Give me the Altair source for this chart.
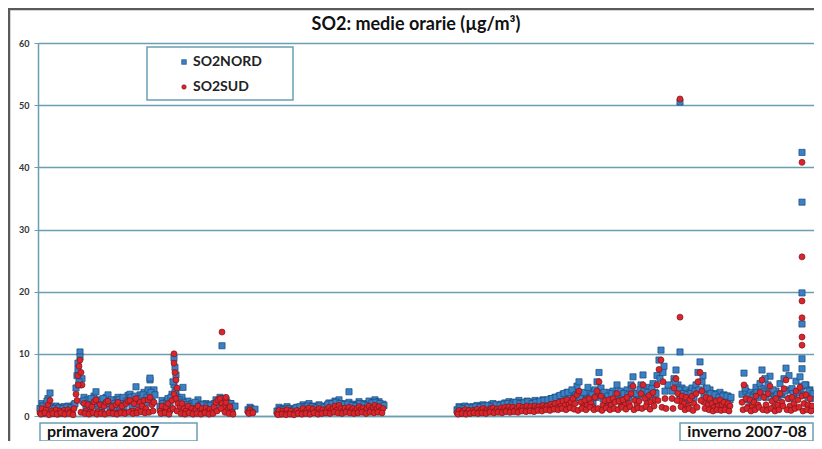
import altair as alt
import pandas as pd

# ---------------- data (medie orarie SO2, µg/m³) ----------------
STEP = 2      # passo della serie principale (indice temporale)
STEP2 = 4     # passo della serie secondaria (valori intermedi)
seg_starts = [2, 122, 210, 239, 419, 634, 704]

nord_segments = [
    [1.2, 2.0, 1.0, 1.8, 2.8, 3.7, 1.5, 1.0, 1.6, 0.8, 1.4, 0.9, 1.5, 1.0, 1.6, 1.2, 0.9, 1.8,
     4.5, 7.5, 10.3, 6.0, 3.0, 1.5, 2.6, 1.2, 2.2, 3.2, 3.9, 1.4, 2.6, 1.2, 2.4, 3.0, 3.4, 1.3,
     2.2, 1.2, 2.6, 3.0, 1.4, 2.4, 1.3, 2.8, 3.3, 3.5, 1.6, 3.0, 4.7, 2.0, 3.4, 2.6, 3.8, 2.2,
     4.2, 5.8, 3.0, 4.2],
    [1.5, 2.5, 1.2, 2.2, 2.8, 1.5, 3.5, 5.0, 4.0, 3.0, 2.2, 3.0, 2.0, 1.6, 2.4, 1.2, 2.0, 1.4,
     1.8, 2.6, 1.5, 1.9, 1.2, 2.0, 1.4, 1.8, 1.3, 2.0, 2.6, 2.2, 3.0, 2.4, 1.8, 2.6, 1.4, 2.0, 1.0],
    [1.0, 1.4, 0.9],
    [0.8, 1.4, 0.6, 1.2, 0.9, 1.5, 0.7, 1.2, 0.6, 1.0, 1.4, 0.8, 1.2, 1.8, 1.0, 1.6, 2.0, 1.2,
     1.6, 1.0, 1.4, 1.8, 1.1, 1.5, 1.0, 1.7, 2.1, 1.4, 2.0, 2.4, 1.6, 2.6, 1.8, 1.3, 2.0, 1.5,
     2.2, 1.4, 1.9, 1.2, 1.8, 2.3, 1.5, 2.0, 1.3, 1.8, 2.4, 1.6, 2.1, 2.6, 1.8, 2.3, 1.4, 1.9],
    [1.0, 1.5, 0.8, 1.3, 1.6, 1.0, 1.4, 0.9, 1.5, 1.2, 1.7, 1.0, 1.4, 1.8, 1.1, 1.6, 1.2, 1.8,
     2.0, 1.3, 1.7, 1.2, 1.9, 1.4, 2.1, 1.5, 2.3, 1.6, 2.2, 1.4, 2.0, 2.5, 1.6, 2.1, 1.5, 2.4,
     1.7, 2.2, 1.6, 2.5, 1.8, 2.3, 1.7, 2.6, 2.0, 2.4, 1.8, 2.8, 2.2, 3.0, 2.0, 3.2, 2.4, 3.5,
     2.6, 3.8, 2.8, 3.2, 4.0, 3.0, 4.8, 5.5, 3.2, 2.4, 3.6, 2.6, 4.0, 3.0, 2.2, 4.2, 5.5, 7.0,
     4.5, 2.8, 3.6, 2.4, 3.8, 2.6, 4.0, 3.2, 5.0, 3.4, 2.4, 3.8, 2.8, 4.2, 3.0, 5.0, 6.3, 3.6,
     2.8, 3.4, 5.0, 6.6, 4.0, 3.0, 4.6, 3.4, 5.2, 3.8, 6.5, 9.0, 10.6, 7.0, 4.0],
    [4.0, 6.0, 7.4, 5.0, 3.5, 4.5, 3.0, 4.2, 2.6, 3.8, 4.5, 3.0, 5.0, 7.0, 8.7, 5.5, 3.4, 4.4,
     2.8, 4.2, 3.2, 2.4, 3.6, 2.6, 3.8, 2.8, 3.4, 2.4, 3.2, 2.6],
    [3.5, 6.9, 4.0, 2.6, 3.8, 2.4, 3.4, 4.6, 3.0, 5.2, 7.4, 4.4, 3.0, 5.0, 6.4, 3.6, 2.6, 4.0,
     3.0, 5.2, 3.4, 6.0, 7.7, 4.2, 2.8, 4.4, 3.2, 5.6, 4.0, 6.3, 4.8, 3.4, 5.0, 3.0, 4.2, 2.8],
]
nord_mid = [
    [1.6, 2.4, 1.4, 1.2, 1.3, 1.2, 1.4, 1.3, 2.0, 5.0, 2.4, 2.0, 2.8, 2.0, 2.4, 2.8, 2.0, 2.6,
     2.0, 2.6, 3.0, 2.4, 3.0, 3.2, 2.8, 3.4, 3.0, 3.8, 3.4],
    [2.0, 1.8, 3.0, 3.8, 2.6, 2.2, 1.8, 1.6, 2.2, 1.6, 1.8, 1.6, 1.7, 1.6, 2.4, 2.8, 2.2, 2.0, 1.6],
    [1.2, 1.1],
    [1.1, 1.0, 1.2, 0.9, 1.3, 1.5, 1.4, 1.6, 1.5, 1.3, 1.6, 1.4, 1.9, 2.0, 2.2, 2.0, 1.8, 1.9,
     1.7, 1.6, 2.0, 1.8, 1.7, 2.1, 2.2, 2.0, 1.7],
    [1.3, 1.2, 1.4, 1.3, 1.5, 1.4, 1.6, 1.7, 1.5, 1.8, 1.7, 1.9, 2.0, 1.8, 2.2, 2.0, 2.1, 2.3,
     2.0, 2.2, 2.4, 2.5, 2.6, 2.8, 3.0, 3.3, 3.6, 3.8, 4.2, 3.4, 3.0, 3.8, 4.6, 3.4, 3.0, 3.6,
     3.8, 3.2, 3.6, 3.4, 4.0, 3.6, 3.4, 4.4, 3.6, 4.2, 4.0, 3.8, 4.4, 3.6, 6.0, 8.0, 5.0],
    [5.5, 4.2, 3.6, 3.4, 3.6, 4.0, 4.2, 6.5, 4.5, 3.6, 3.4, 3.0, 3.2, 3.2, 3.0],
    [4.5, 3.2, 3.0, 3.8, 4.0, 6.0, 3.8, 4.2, 3.4, 3.6, 4.0, 6.5, 3.6, 3.8, 4.4, 5.0, 4.0, 3.6],
]

sud_segments = [
    [0.5, 1.2, 0.4, 1.0, 1.8, 2.5, 0.8, 0.4, 1.0, 0.3, 0.8, 0.4, 0.9, 0.5, 1.0, 0.6, 0.4, 1.2,
     3.5, 6.5, 9.0, 5.0, 2.0, 0.8, 1.8, 0.6, 1.5, 2.3, 2.6, 0.7, 1.8, 0.6, 1.6, 2.2, 2.4, 0.6,
     1.5, 0.5, 1.8, 2.2, 0.7, 1.6, 0.6, 2.0, 2.4, 2.5, 0.8, 2.0, 2.8, 1.0, 2.2, 1.6, 2.5, 1.2,
     2.6, 3.0, 1.8, 2.2],
    [0.8, 1.6, 0.6, 1.4, 2.0, 0.8, 2.5, 3.5, 2.8, 2.0, 1.4, 2.0, 1.2, 0.8, 1.6, 0.6, 1.2, 0.7,
     1.1, 1.6, 0.8, 1.2, 0.6, 1.3, 0.8, 1.1, 0.7, 1.4, 2.2, 2.6, 2.8, 2.0, 1.4, 2.2, 1.0, 1.5, 0.6],
    [0.6, 1.0, 0.7],
    [0.4, 0.9, 0.3, 0.8, 0.5, 1.0, 0.4, 0.8, 0.3, 0.6, 0.9, 0.5, 0.8, 1.2, 0.6, 1.0, 1.3, 0.7,
     1.1, 0.6, 0.9, 1.2, 0.7, 1.0, 0.6, 1.1, 1.4, 0.9, 1.3, 1.6, 1.0, 1.7, 1.2, 0.8, 1.3, 0.9,
     1.4, 0.9, 1.2, 0.8, 1.2, 1.5, 1.0, 1.3, 0.8, 1.2, 1.6, 1.0, 1.4, 1.7, 1.2, 1.5, 0.9, 1.2],
    [0.5, 0.9, 0.4, 0.8, 1.0, 0.6, 0.9, 0.5, 0.9, 0.7, 1.1, 0.6, 0.9, 1.2, 0.7, 1.0, 0.8, 1.2,
     1.3, 0.8, 1.1, 0.8, 1.3, 0.9, 1.4, 1.0, 1.5, 1.0, 1.4, 0.9, 1.3, 1.6, 1.0, 1.4, 1.0, 1.6,
     1.1, 1.5, 1.0, 1.6, 1.2, 1.5, 1.1, 1.7, 1.3, 1.6, 1.2, 1.9, 1.5, 2.0, 1.3, 2.2, 1.6, 2.4,
     1.7, 2.6, 1.9, 2.2, 2.8, 2.0, 3.4, 4.0, 2.2, 1.5, 2.5, 1.7, 2.8, 2.0, 1.4, 3.0, 4.0, 5.5,
     3.2, 1.8, 2.5, 1.5, 2.6, 1.7, 2.8, 2.2, 3.6, 2.4, 1.5, 2.6, 1.8, 3.0, 2.0, 3.6, 4.8, 2.5,
     1.8, 2.4, 3.6, 5.0, 2.8, 2.0, 3.3, 2.3, 3.8, 2.6, 5.0, 7.5, 9.0, 5.5, 2.8],
    [2.8, 4.5, 6.0, 3.6, 2.4, 3.2, 2.0, 3.0, 1.6, 2.6, 3.2, 2.0, 3.6, 5.5, 7.0, 4.0, 2.2, 3.0,
     1.8, 2.8, 2.0, 1.4, 2.4, 1.6, 2.6, 1.8, 2.2, 1.4, 2.0, 1.6],
    [2.2, 5.0, 2.8, 1.5, 2.6, 1.4, 2.2, 3.2, 1.8, 3.8, 5.8, 3.0, 1.8, 3.6, 4.8, 2.4, 1.5, 2.8,
     1.8, 3.6, 2.2, 4.4, 5.8, 2.8, 1.6, 3.0, 2.0, 4.0, 2.6, 4.6, 3.2, 2.0, 3.4, 1.8, 2.8, 1.6],
]
sud_low = [
    [0.3, 0.5, 0.2, 0.4, 0.3, 0.5, 0.3, 0.4, 0.2, 2.5, 0.6, 0.4, 0.3, 0.5, 0.3, 0.4, 0.3, 0.5,
     0.4, 0.3, 0.5, 0.4, 0.6, 0.4, 0.5, 0.7, 0.5, 0.6, 0.8],
    [0.4, 0.5, 0.3, 1.2, 0.8, 0.4, 0.3, 0.5, 0.3, 0.4, 0.3, 0.5, 0.3, 0.4, 0.8, 1.2, 0.6, 0.4, 0.3],
    [0.4, 0.5],
    [0.2, 0.3, 0.2, 0.3, 0.2, 0.4, 0.3, 0.4, 0.3, 0.5, 0.3, 0.4, 0.5, 0.4, 0.6, 0.5, 0.4, 0.6,
     0.5, 0.4, 0.5, 0.6, 0.4, 0.6, 0.5, 0.6, 0.5],
    [0.3, 0.4, 0.3, 0.4, 0.5, 0.4, 0.5, 0.4, 0.6, 0.5, 0.6, 0.5, 0.7, 0.6, 0.7, 0.6, 0.8, 0.7,
     0.8, 0.7, 0.9, 0.8, 1.0, 0.9, 1.1, 1.0, 1.2, 1.0, 1.3, 1.1, 0.9, 1.2, 1.0, 1.4, 1.0, 1.2,
     0.9, 1.3, 1.0, 1.2, 1.0, 1.4, 1.1, 1.5, 1.0, 1.3, 1.2, 1.5, 1.1, 1.6, 2.5, 1.4, 1.2],
    [1.2, 2.5, 1.5, 1.0, 1.2, 0.9, 1.4, 2.5, 1.2, 1.0, 0.8, 1.0, 0.9, 1.0, 0.8],
    [1.0, 1.2, 0.8, 1.0, 1.4, 1.0, 0.9, 1.2, 0.8, 1.0, 1.6, 1.0, 0.9, 1.2, 1.4, 0.8, 1.0, 0.8],
]

# valori isolati (picchi)
nord_extra_t = [40, 42, 41, 39, 136, 137, 138, 135, 145, 184, 112, 311,
                642, 642, 764, 764, 764, 764, 764, 764]
nord_extra_v = [8.5, 9.5, 5.5, 6.5, 9.3, 7.8, 6.6, 5.5, 4.6, 11.3, 6.1, 3.9,
                50.5, 10.3, 42.4, 34.4, 19.8, 14.8, 9.2, 7.6]
sud_extra_t = [41, 40, 43, 136, 136, 137, 138, 139, 184, 188,
               642, 642, 764, 764, 764, 764, 764, 764]
sud_extra_v = [8.0, 5.0, 7.0, 10.0, 8.5, 7.0, 5.8, 4.5, 13.5, 3.0,
               51.0, 15.9, 40.8, 25.6, 18.5, 15.8, 12.7, 11.4]

series_names = ["SO2NORD", "SO2SUD"]
series_fill = ["#3a80c6", "#d9252b"]
series_stroke = ["#1d4a78", "#7d171c"]
y_ticks = [0, 10, 20, 30, 40, 50, 60]
title_text = "SO2: medie orarie (µg/m³)"
period_labels = ["primavera 2007", "inverno 2007-08"]

# ---------------- table ----------------
rows = []


def add(name, segs, offset, step):
    for start, vals in zip(seg_starts, segs):
        for i, v in enumerate(vals):
            rows.append({"t": start + offset + step * i, "v": v, "serie": name})


add("SO2NORD", nord_segments, 0, STEP)
add("SO2NORD", nord_mid, 3, STEP2)
for t, v in zip(nord_extra_t, nord_extra_v):
    rows.append({"t": t, "v": v, "serie": "SO2NORD"})
add("SO2SUD", sud_segments, 0, STEP)
add("SO2SUD", sud_low, 1, STEP2)
for t, v in zip(sud_extra_t, sud_extra_v):
    rows.append({"t": t, "v": v, "serie": "SO2SUD"})
df = pd.DataFrame(rows)

W, H = 776, 373
TEAL = "#6a9fb3"
FONT = "Lato"

xenc = alt.X("t:Q", scale=alt.Scale(domain=[0, W], nice=False, zero=False),
             axis=alt.Axis(labels=False, ticks=False, grid=False, title=None,
                           domainColor=TEAL, domainWidth=1.5))
yenc = alt.Y("v:Q", scale=alt.Scale(domain=[0, 60], nice=False),
             axis=alt.Axis(values=y_ticks, grid=True, gridColor=TEAL, gridWidth=1.3,
                           domainColor=TEAL, domainWidth=1.5, tickColor=TEAL, tickSize=4,
                           labelFont=FONT, labelFontSize=9, labelFontWeight="bold",
                           labelColor="#333", labelPadding=5, title=None))

base = alt.Chart(df)
nord = base.transform_filter(alt.datum.serie == "SO2NORD").mark_square(
    size=38, fill=series_fill[0], stroke=series_stroke[0], strokeWidth=0.7, opacity=1
).encode(x=xenc, y=yenc)
sud = base.transform_filter(alt.datum.serie == "SO2SUD").mark_circle(
    size=36, fill=series_fill[1], stroke=series_stroke[1], strokeWidth=0.7, opacity=1
).encode(x="t:Q", y="v:Q")

one = pd.DataFrame({"k": [0]})
deco = alt.Chart(one)

frame_left = deco.mark_rule(color="#5a5a5a", strokeWidth=2.5).encode(
    x=alt.value(-29), y=alt.value(-34), y2=alt.value(400))
frame_top = deco.mark_rule(color="#5a5a5a", strokeWidth=2.5).encode(
    x=alt.value(-30), x2=alt.value(W), y=alt.value(-34))

title = deco.mark_text(font=FONT, fontSize=18, fontWeight="bold", color="#111",
                       align="center", baseline="middle").encode(
    x=alt.value(378), y=alt.value(-18), text=alt.value(title_text))

leg_box = deco.mark_rect(fill="white", stroke=TEAL, strokeWidth=1.5).encode(
    x=alt.value(109), x2=alt.value(255), y=alt.value(4), y2=alt.value(57))
leg_m1 = deco.mark_square(size=22, fill=series_fill[0], stroke=series_stroke[0],
                          strokeWidth=0.6, opacity=1).encode(
    x=alt.value(146), y=alt.value(19))
leg_m2 = deco.mark_circle(size=20, fill=series_fill[1], stroke=series_stroke[1],
                          strokeWidth=0.6, opacity=1).encode(
    x=alt.value(146), y=alt.value(44))
leg_t1 = deco.mark_text(font=FONT, fontSize=14, fontWeight="bold", color="#222",
                        align="left", baseline="middle").encode(
    x=alt.value(155), y=alt.value(19), text=alt.value(series_names[0]))
leg_t2 = deco.mark_text(font=FONT, fontSize=14, fontWeight="bold", color="#222",
                        align="left", baseline="middle").encode(
    x=alt.value(155), y=alt.value(44), text=alt.value(series_names[1]))

box1 = deco.mark_rect(fill="white", stroke=TEAL, strokeWidth=1.5).encode(
    x=alt.value(2), x2=alt.value(159), y=alt.value(380), y2=alt.value(398))
box1_t = deco.mark_text(font=FONT, fontSize=16, fontWeight="bold", color="#111",
                        align="left", baseline="middle").encode(
    x=alt.value(9), y=alt.value(389), text=alt.value(period_labels[0]))
box2 = deco.mark_rect(fill="white", stroke=TEAL, strokeWidth=1.5).encode(
    x=alt.value(642), x2=alt.value(775), y=alt.value(380), y2=alt.value(398))
box2_t = deco.mark_text(font=FONT, fontSize=16, fontWeight="bold", color="#111",
                        align="center", baseline="middle").encode(
    x=alt.value(709), y=alt.value(389), text=alt.value(period_labels[1]))

chart = alt.layer(
    nord, sud, frame_left, frame_top, title, leg_box, leg_m1, leg_m2, leg_t1, leg_t2,
    box1, box1_t, box2, box2_t
).properties(
    width=W, height=H,
    autosize=alt.AutoSizeParams(type="none"),
    padding={"left": 30, "top": 35, "right": 0, "bottom": 25},
    background="white",
).configure_view(stroke=None)

chart.save("out.html", embed_options={"renderer": "svg", "actions": False})
